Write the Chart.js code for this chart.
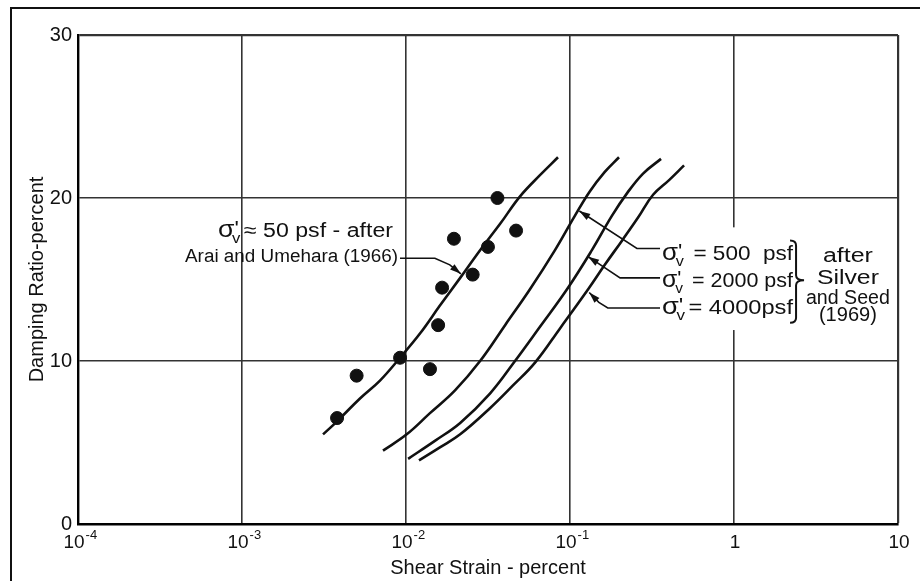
<!DOCTYPE html>
<html>
<head>
<meta charset="UTF-8">
<title>Damping Ratio vs Shear Strain</title>
<script src="https://cdn.jsdelivr.net/npm/chart.js"></script>
<style>
  html, body { margin: 0; padding: 0; background: #fff; }
</style>
</head>
<body>
<canvas id="myChart" width="920" height="581"></canvas>
<script>
// axis ticks
const strainTicks = [1e-4, 1e-3, 1e-2, 1e-1, 1, 10];
const strainTickBase = ['10', '10', '10', '10', '1', '10'];
const strainTickExp = ['-4', '-3', '-2', '-1', '', ''];
const dampingTicks = [0, 10, 20, 30];

// test points (sigma'v ~ 50 psf, Arai and Umehara 1966)
const testStrain  = [0.0038, 0.0050, 0.0092, 0.0140, 0.0157, 0.0166, 0.0196, 0.0255, 0.0316, 0.0361, 0.0469];
const testDamping = [6.5, 9.1, 10.2, 9.5, 12.2, 14.5, 17.5, 15.3, 17.0, 20.0, 18.0];

// curve: 50 psf
const strain50  = [0.00312, 0.0038, 0.00524, 0.00694, 0.00919, 0.0122, 0.0161, 0.0214, 0.0283, 0.0374, 0.0496, 0.0656, 0.0845];
const damping50 = [5.5, 6.3, 7.7, 8.8, 10.2, 11.7, 13.4, 15.1, 16.8, 18.4, 20.1, 21.4, 22.5];

// curve: 500 psf (Silver and Seed 1969)
const strain500  = [0.00724, 0.0101, 0.0140, 0.0199, 0.0283, 0.0402, 0.0570, 0.0810, 0.107, 0.132, 0.163, 0.199];
const damping500 = [4.5, 5.5, 6.8, 8.2, 10.0, 12.2, 14.4, 16.8, 18.9, 20.4, 21.6, 22.5];

// curve: 2000 psf
const strain2000  = [0.0103, 0.0150, 0.0214, 0.0325, 0.0462, 0.0656, 0.0959, 0.136, 0.180, 0.223, 0.279, 0.359];
const damping2000 = [4.0, 5.1, 6.2, 8.0, 10.0, 12.1, 14.4, 16.8, 18.9, 20.3, 21.5, 22.4];

// curve: 4000 psf
const strain4000  = [0.0120, 0.0161, 0.0214, 0.0325, 0.0449, 0.0612, 0.0869, 0.129, 0.163, 0.208, 0.260, 0.321, 0.402, 0.496];
const damping4000 = [3.9, 4.7, 5.5, 7.1, 8.5, 9.9, 12.0, 14.4, 15.9, 17.4, 18.8, 20.2, 21.1, 22.0];

const pts = (xs, ys) => xs.map((x, i) => ({ x: x, y: ys[i] }));

// annotation placement, in axis units (strain, damping)
const labelsLeft = [
  { sigma: true,  text: '\u2248 50 psf - after',     at: [0.00833, 17.6], w: 175, align: 'right', size: 20 },
  { sigma: false, text: 'Arai and Umehara (1966)',   at: [0.00894, 16.1], w: 213, align: 'right', size: 18 }
];
const labelsRight = [
  { sigma: true, text: ' = 500  psf', at: [0.364, 16.2],  w: 131, align: 'left', size: 21 },
  { sigma: true, text: ' = 2000 psf', at: [0.364, 14.55], w: 131, align: 'left', size: 21 },
  { sigma: true, text: '= 4000psf',   at: [0.364, 12.9],  w: 131, align: 'left', size: 21 }
];
const sourceLines = [
  { sigma: false, text: 'after',    at: [4.95, 16.1],  w: 50, align: 'center', size: 20 },
  { sigma: false, text: 'Silver',   at: [4.95, 14.7],  w: 62, align: 'center', size: 20 },
  { sigma: false, text: 'and Seed', at: [4.95, 13.5],  w: 84, align: 'center', size: 20 },
  { sigma: false, text: '(1969)',   at: [4.95, 12.45], w: 58, align: 'center', size: 20 }
];
const arrows = [
  [[0.00919, 16.3], [0.0150, 16.3], [0.0185, 15.9], [0.0216, 15.35]],
  [[0.354, 16.9], [0.256, 16.9], [0.114, 19.2]],
  [[0.354, 15.1], [0.202, 15.1], [0.129, 16.4]],
  [[0.354, 13.25], [0.170, 13.25], [0.150, 13.6], [0.131, 14.2]]
];

const FONT = '"Liberation Sans", "DejaVu Sans", sans-serif';

function P(chart, x, y) {
  return [chart.scales.x.getPixelForValue(x), chart.scales.y.getPixelForValue(y)];
}

function drawLabel(c, chart, lab) {
  const fs = lab.size;
  const [px, py] = P(chart, lab.at[0], lab.at[1]);
  c.font = fs + 'px ' + FONT;
  const wSig = lab.sigma ? c.measureText('\u03c3').width * 1.15 : 0;
  c.font = (fs * 0.72) + 'px ' + FONT;
  const wV = lab.sigma ? c.measureText('v').width + 1 : 0;
  c.font = fs + 'px ' + FONT;
  const wT = c.measureText(lab.text).width;
  const nat = wSig + wV + wT;
  const k = lab.w ? Math.min(1.3, Math.max(0.85, lab.w / nat)) : 1;
  const tot = nat * k;
  const x0 = lab.align === 'right' ? px - tot : lab.align === 'center' ? px - tot / 2 : px;
  c.save();
  c.translate(x0, py);
  c.scale(k, 1);
  c.fillStyle = '#111';
  c.textAlign = 'left';
  c.textBaseline = 'alphabetic';
  let x = 0;
  if (lab.sigma) {
    c.font = (fs * 1.15) + 'px ' + FONT;
    c.fillText('\u03c3', 0, 0);
    c.font = (fs * 0.72) + 'px ' + FONT;
    c.fillText('v', wSig - 2, fs * 0.3);
    c.font = fs + 'px ' + FONT;
    c.fillText("'", wSig, -fs * 0.1);
    x = wSig + wV;
  }
  c.font = fs + 'px ' + FONT;
  c.fillText(lab.text, x, 0);
  c.restore();
}

function drawArrow(c, chart, path) {
  const p = path.map(q => P(chart, q[0], q[1]));
  c.save();
  c.strokeStyle = '#111';
  c.fillStyle = '#111';
  c.lineWidth = 1.6;
  c.beginPath();
  c.moveTo(p[0][0], p[0][1]);
  for (let i = 1; i < p.length; i++) c.lineTo(p[i][0], p[i][1]);
  c.stroke();
  const [ax, ay] = p[p.length - 2];
  const [bx, by] = p[p.length - 1];
  const a = Math.atan2(by - ay, bx - ax);
  const L = 11, W = 3.5;
  c.beginPath();
  c.moveTo(bx, by);
  c.lineTo(bx - L * Math.cos(a) + W * Math.sin(a), by - L * Math.sin(a) - W * Math.cos(a));
  c.lineTo(bx - L * Math.cos(a) - W * Math.sin(a), by - L * Math.sin(a) + W * Math.cos(a));
  c.closePath();
  c.fill();
  c.restore();
}

const annotate = {
  id: 'annotate',
  beforeDatasetsDraw(chart) {
    // lettering on the right breaks the grid line at 1 percent
    const c = chart.ctx;
    const [x0, y0] = P(chart, 0.33, 18.2);
    const [x1, y1] = P(chart, 9.3, 11.9);
    c.save();
    c.fillStyle = '#fff';
    c.fillRect(x0, y0, x1 - x0, y1 - y0);
    c.restore();
  },
  afterDatasetsDraw(chart) {
    const c = chart.ctx;
    arrows.forEach(a => drawArrow(c, chart, a));
    labelsLeft.concat(labelsRight, sourceLines).forEach(l => drawLabel(c, chart, l));

    // brace grouping the three Silver and Seed curves
    const [bx, bt] = P(chart, 2.39, 17.4);
    const [, bm] = P(chart, 2.39, 14.95);
    const [, bb] = P(chart, 2.39, 12.35);
    c.save();
    c.strokeStyle = '#111';
    c.lineWidth = 2;
    c.beginPath();
    c.moveTo(bx - 6, bt);
    c.quadraticCurveTo(bx, bt, bx, bt + 5);
    c.lineTo(bx, bm - 5);
    c.quadraticCurveTo(bx, bm, bx + 8, bm);
    c.quadraticCurveTo(bx, bm, bx, bm + 5);
    c.lineTo(bx, bb - 5);
    c.quadraticCurveTo(bx, bb, bx - 6, bb);
    c.stroke();
    c.restore();
  },
  afterDraw(chart) {
    const c = chart.ctx;
    const xs = chart.scales.x;
    const base = xs.bottom - 33;
    c.save();
    c.fillStyle = '#111';
    c.textBaseline = 'alphabetic';
    strainTicks.forEach((v, i) => {
      const px = xs.getPixelForValue(v);
      c.font = '19px ' + FONT;
      const wb = c.measureText(strainTickBase[i]).width;
      c.textAlign = 'left';
      if (strainTickExp[i]) {
        c.fillText(strainTickBase[i], px - 4 - wb / 2, base);
        c.font = '13px ' + FONT;
        c.fillText(strainTickExp[i], px - 4 + wb / 2 + 1, base - 9);
      } else {
        c.fillText(strainTickBase[i], px - wb / 2 + 1, base);
      }
    });
    // outer frame of the figure
    c.strokeStyle = '#111';
    c.lineWidth = 2;
    c.beginPath();
    c.moveTo(920, 8);
    c.lineTo(11, 8);
    c.lineTo(11, 581);
    c.stroke();
    c.restore();
  }
};

const curveStyle = {
  showLine: true,
  pointRadius: 0,
  borderColor: '#111',
  borderWidth: 2.6,
  tension: 0.4,
  fill: false
};

new Chart(document.getElementById('myChart'), {
  type: 'scatter',
  data: {
    datasets: [
      Object.assign({ label: '50 psf', data: pts(strain50, damping50) }, curveStyle),
      Object.assign({ label: '500 psf', data: pts(strain500, damping500) }, curveStyle),
      Object.assign({ label: '2000 psf', data: pts(strain2000, damping2000) }, curveStyle),
      Object.assign({ label: '4000 psf', data: pts(strain4000, damping4000) }, curveStyle),
      {
        label: 'Arai and Umehara (1966)',
        data: pts(testStrain, testDamping),
        pointRadius: 6.5,
        pointBackgroundColor: '#111',
        pointBorderColor: '#111',
        showLine: false
      }
    ]
  },
  options: {
    responsive: false,
    devicePixelRatio: 1,
    animation: false,
    layout: { padding: { left: 0, right: 22, top: 35, bottom: 0 } },
    plugins: { legend: { display: false }, tooltip: { enabled: false } },
    scales: {
      x: {
        type: 'logarithmic',
        min: 1e-4,
        max: 10,
        afterBuildTicks: s => { s.ticks = strainTicks.map(v => ({ value: v })); },
        afterFit: s => { s.height = 57; },
        ticks: { display: false },
        grid: { color: '#333', lineWidth: ctx => (ctx.tick && ctx.tick.value === 10 ? 2.2 : 1.6), drawTicks: false },
        border: { color: '#000', width: 2.4 },
        title: {
          display: true,
          text: 'Shear Strain - percent',
          color: '#111',
          font: { family: FONT, size: 20 },
          padding: { top: 0, bottom: 1 }
        }
      },
      y: {
        min: 0,
        max: 30,
        afterBuildTicks: s => { s.ticks = dampingTicks.map(v => ({ value: v })); },
        afterFit: s => { s.width = 78; },
        ticks: { color: '#111', padding: 6, font: { family: FONT, size: 20 } },
        grid: { color: '#333', lineWidth: ctx => (ctx.tick && ctx.tick.value === 30 ? 2.2 : 1.6), drawTicks: false },
        border: { color: '#000', width: 2.4 },
        title: {
          display: true,
          text: 'Damping Ratio-percent',
          color: '#111',
          font: { family: FONT, size: 20 },
          padding: { top: 25, bottom: 0 }
        }
      }
    }
  },
  plugins: [annotate]
});
</script>
</body>
</html>
